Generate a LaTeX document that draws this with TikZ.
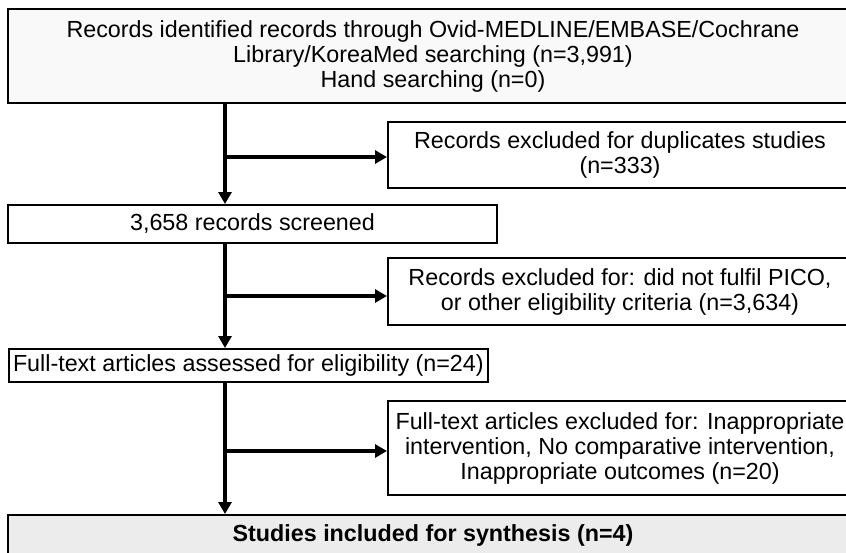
\documentclass[tikz,border=0pt]{standalone}
\usepackage{fontspec}
\setmainfont{Liberation Sans}
\usetikzlibrary{arrows.meta}

\begin{document}
\begin{tikzpicture}[x=1pt, y=-1pt,
    every node/.style={font=\fontsize{23.3}{25}\selectfont},
    box/.style={draw, line width=2pt, inner sep=0pt, align=center},
    arr/.style={line width=3.5pt, -{Triangle[length=12pt, width=13pt]}}]
  \clip[use as bounding box] (0,0) rectangle (846,552);
  % main column (right edges run off the page)
  \node[box, fill=gray!5, minimum width=850, minimum height=94] (ident) at (433,56)
    {Records identified records through Ovid-MEDLINE/EMBASE/Cochrane\\
     Library/KoreaMed searching (n=3,991)\\ Hand searching (n=0)};
  \node[box, minimum width=489, minimum height=38] (screen) at (252.5,224) {3,658 records screened};
  \node[box, anchor=west, inner xsep=4pt, minimum height=33] (full) at (8,365.5)
    {Full-text articles assessed for eligibility (n=24)};
  \node[box, fill=gray!15, minimum width=850, minimum height=40] (incl) at (433,535)
    {\bfseries Studies included for synthesis (n=4)};
  % excluded
  \node[box, minimum width=464, minimum height=66] (dup) at (620,155)
    {Records excluded for duplicates studies\\ (n=333)};
  \node[box, minimum width=464, minimum height=67] (pico) at (620,291.5)
    {Records excluded for: did not fulfil PICO,\\ or other eligibility criteria (n=3,634)};
  \node[box, minimum width=464, minimum height=94] (excl) at (620,448)
    {Full-text articles excluded for: Inappropriate\\ intervention, No comparative intervention,\\
     Inappropriate outcomes (n=20)};
  % arrows
  \coordinate (b1) at (225,157);
  \coordinate (b2) at (225,296);
  \coordinate (b3) at (225,451);
  \draw[arr] (ident.south -| b1) -- (screen.north -| b1);
  \draw[arr] (screen.south -| b2) -- (full.north -| b2);
  \draw[arr] (full.south -| b3) -- (incl.north -| b3);
  \foreach \b/\t in {b1/dup, b2/pico, b3/excl}
    \draw[arr] (\b) -- (\b -| \t.west);
\end{tikzpicture}
\end{document}
